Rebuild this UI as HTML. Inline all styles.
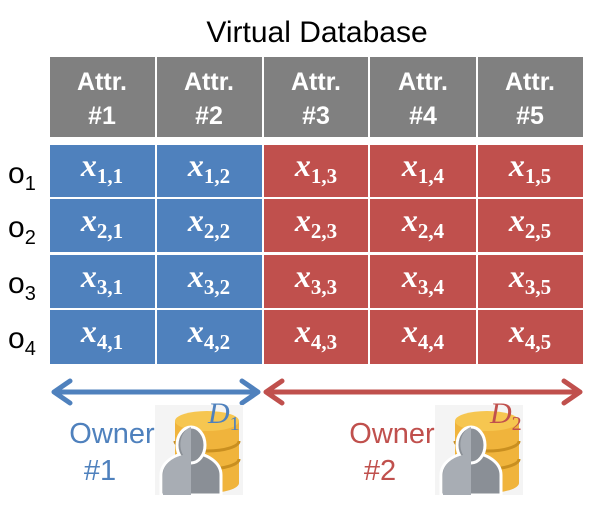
<!DOCTYPE html>
<html><head><meta charset="utf-8"><style>
html,body{margin:0;padding:0;background:#fff;}
svg{display:block}
.h{font-family:"Liberation Sans",sans-serif;font-weight:bold;font-size:25px;fill:#fff;text-anchor:middle}
.x{font-family:"Liberation Serif",serif;font-weight:bold;font-style:italic;font-size:32px;fill:#fff;text-anchor:middle}
.s{font-style:normal;font-size:21px}
.o{font-family:"Liberation Sans",sans-serif;font-size:30px;fill:#000}
.ow{font-family:"Liberation Sans",sans-serif;font-size:29px;text-anchor:middle}
.b{fill:#4f81bd}.r{fill:#c0504d}
</style></head><body>
<svg width="605" height="510" viewBox="0 0 605 510" xmlns="http://www.w3.org/2000/svg">
<text x="317" y="42" text-anchor="middle" font-family="Liberation Sans,sans-serif" font-size="30" fill="#000">Virtual Database</text>
<g fill="#808080">
<rect x="50" y="57" width="105" height="80"/><rect x="157" y="57" width="105" height="80"/>
<rect x="264" y="57" width="104" height="80"/><rect x="370" y="57" width="106" height="80"/><rect x="478" y="57" width="105" height="80"/>
</g>
<text class="h" x="102" y="90">Attr.</text><text class="h" x="102" y="124">#1</text>
<text class="h" x="209" y="90">Attr.</text><text class="h" x="209" y="124">#2</text>
<text class="h" x="316" y="90">Attr.</text><text class="h" x="316" y="124">#3</text>
<text class="h" x="423" y="90">Attr.</text><text class="h" x="423" y="124">#4</text>
<text class="h" x="530" y="90">Attr.</text><text class="h" x="530" y="124">#5</text>

<rect class="b" x="50" y="145" width="105" height="52"/><rect class="b" x="157" y="145" width="105" height="52"/>
<rect class="r" x="264" y="145" width="104" height="52"/><rect class="r" x="370" y="145" width="106" height="52"/><rect class="r" x="478" y="145" width="105" height="52"/>
<rect class="b" x="50" y="199" width="105" height="53"/><rect class="b" x="157" y="199" width="105" height="53"/>
<rect class="r" x="264" y="199" width="104" height="53"/><rect class="r" x="370" y="199" width="106" height="53"/><rect class="r" x="478" y="199" width="105" height="53"/>
<rect class="b" x="50" y="255" width="105" height="53"/><rect class="b" x="157" y="255" width="105" height="53"/>
<rect class="r" x="264" y="255" width="104" height="53"/><rect class="r" x="370" y="255" width="106" height="53"/><rect class="r" x="478" y="255" width="105" height="53"/>
<rect class="b" x="50" y="310" width="105" height="54"/><rect class="b" x="157" y="310" width="105" height="54"/>
<rect class="r" x="264" y="310" width="104" height="54"/><rect class="r" x="370" y="310" width="106" height="54"/><rect class="r" x="478" y="310" width="105" height="54"/>

<text class="x" x="102" y="176">x<tspan class="s" dy="7">1,1</tspan></text>
<text class="x" x="209" y="176">x<tspan class="s" dy="7">1,2</tspan></text>
<text class="x" x="316" y="176">x<tspan class="s" dy="7">1,3</tspan></text>
<text class="x" x="423" y="176">x<tspan class="s" dy="7">1,4</tspan></text>
<text class="x" x="530" y="176">x<tspan class="s" dy="7">1,5</tspan></text>
<text class="x" x="102" y="231">x<tspan class="s" dy="7">2,1</tspan></text>
<text class="x" x="209" y="231">x<tspan class="s" dy="7">2,2</tspan></text>
<text class="x" x="316" y="231">x<tspan class="s" dy="7">2,3</tspan></text>
<text class="x" x="423" y="231">x<tspan class="s" dy="7">2,4</tspan></text>
<text class="x" x="530" y="231">x<tspan class="s" dy="7">2,5</tspan></text>
<text class="x" x="102" y="287">x<tspan class="s" dy="7">3,1</tspan></text>
<text class="x" x="209" y="287">x<tspan class="s" dy="7">3,2</tspan></text>
<text class="x" x="316" y="287">x<tspan class="s" dy="7">3,3</tspan></text>
<text class="x" x="423" y="287">x<tspan class="s" dy="7">3,4</tspan></text>
<text class="x" x="530" y="287">x<tspan class="s" dy="7">3,5</tspan></text>
<text class="x" x="102" y="342">x<tspan class="s" dy="7">4,1</tspan></text>
<text class="x" x="209" y="342">x<tspan class="s" dy="7">4,2</tspan></text>
<text class="x" x="316" y="342">x<tspan class="s" dy="7">4,3</tspan></text>
<text class="x" x="423" y="342">x<tspan class="s" dy="7">4,4</tspan></text>
<text class="x" x="530" y="342">x<tspan class="s" dy="7">4,5</tspan></text>

<text class="o" x="8" y="183">o<tspan font-size="20" dy="7">1</tspan></text>
<text class="o" x="8" y="237">o<tspan font-size="20" dy="7">2</tspan></text>
<text class="o" x="8" y="293">o<tspan font-size="20" dy="7">3</tspan></text>
<text class="o" x="8" y="348">o<tspan font-size="20" dy="7">4</tspan></text>
<g stroke-width="5" fill="none" stroke-linecap="round" stroke-linejoin="round">
<path d="M54 392H258M70 381L54 392L70 403M242 381L258 392L242 403" stroke="#4f81bd"/>
<path d="M266 392H580M282 381L266 392L282 403M564 381L580 392L564 403" stroke="#c0504d"/>
</g>
<text class="ow" x="112" y="443" fill="#4f81bd">Owner</text>
<text class="ow" x="100" y="480" fill="#4f81bd">#1</text>
<text class="ow" x="392" y="443" fill="#c0504d">Owner</text>
<text class="ow" x="380" y="480" fill="#c0504d">#2</text>
<defs>
<g id="icon">
<rect x="0" y="0" width="88" height="90" fill="#f4f4f4"/>
<path d="M20 16 v62 a32 10 0 0 0 64 0 v-62z" fill="#f0b43c"/>
<ellipse cx="52" cy="16" rx="32" ry="10" fill="#f6c650"/>
<path d="M20 36 a32 10 0 0 0 64 0 M20 54 a32 10 0 0 0 64 0" stroke="#c98f20" stroke-width="3" fill="none"/>
<path d="M6 90 v-20 a30 22 0 0 1 30 -22 a30 22 0 0 1 30 22 v20z" fill="#8a8f96" stroke="#fff" stroke-width="3"/>
<ellipse cx="36" cy="40" rx="14" ry="18" fill="#8a8f96" stroke="#fff" stroke-width="3"/>
<path d="M36 22 v68 H8 v-20 a28 20 0 0 1 20 -20 a14 18 0 0 1 8 -28z" fill="#a8adb4"/>
</g>
</defs>
<use href="#icon" x="155" y="405"/>
<use href="#icon" x="435" y="405"/>
<text x="208" y="423" font-family="Liberation Serif,serif" font-style="italic" font-size="30" fill="#4f81bd">D<tspan font-style="normal" font-size="20" dy="7">1</tspan></text>
<text x="490" y="423" font-family="Liberation Serif,serif" font-style="italic" font-size="30" fill="#c0504d">D<tspan font-style="normal" font-size="20" dy="7">2</tspan></text>
</svg>
</body></html>
